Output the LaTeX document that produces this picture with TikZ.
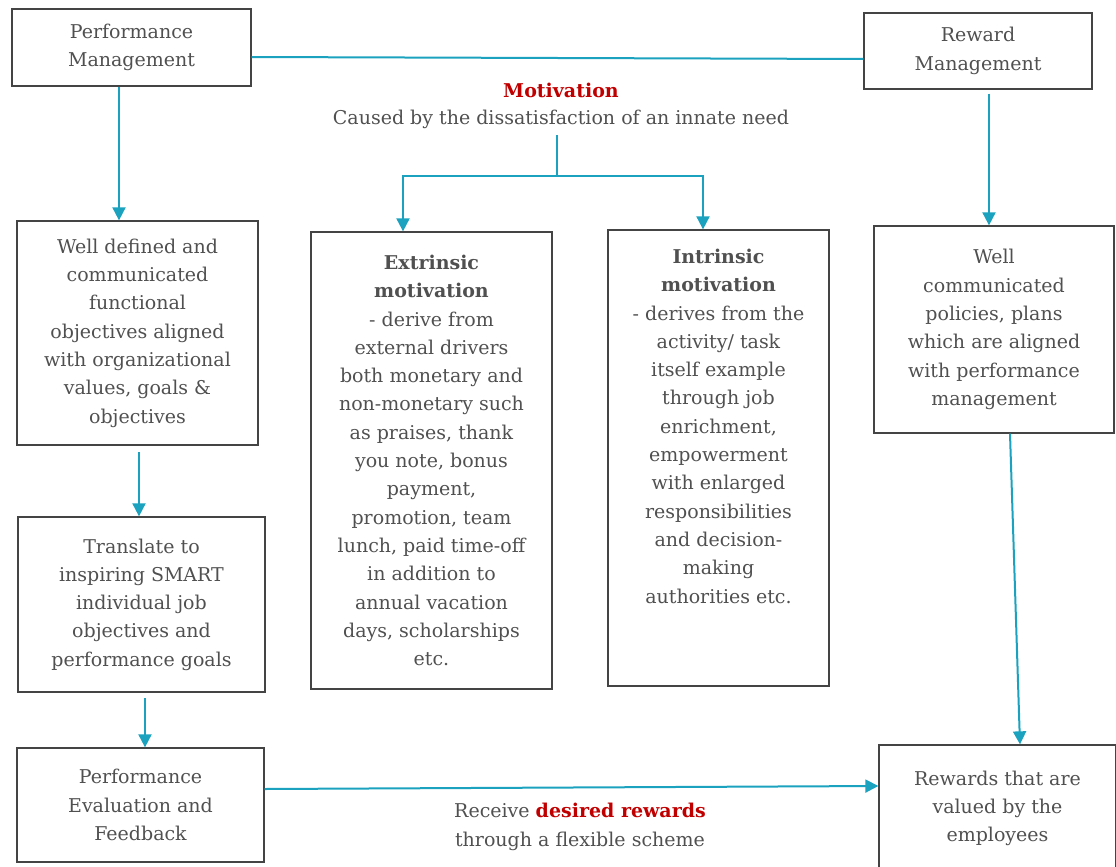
\documentclass[tikz,border=0pt]{standalone}
\usepackage{fontspec}
\setmainfont{DejaVu Serif}
\usetikzlibrary{arrows.meta}
\definecolor{flow}{HTML}{1AA2BF}
\definecolor{ink}{HTML}{505050}
\definecolor{accent}{HTML}{C00000}
\definecolor{frame}{HTML}{444444}
\begin{document}
\begin{tikzpicture}[x=1pt,y=-1pt,
  every node/.style={text=ink, font=\fontsize{19}{28.3}\selectfont},
  box/.style={draw=frame, line width=1.3pt, align=center, inner sep=0pt},
  link/.style={draw=flow, line width=2pt},
  arrow/.style={link, -{Triangle[width=13pt,length=13pt]}}]
\useasboundingbox (0,0) rectangle (1116,867);
\clip (0,0) rectangle (1116,867);

% left column
\node[box, minimum width=239, minimum height=77] (pm) at (131.5,47.5) {Performance\\Management};
\node[box, minimum width=241, minimum height=224] (wd) at (137.5,333)
  {Well defined and\\communicated\\functional\\objectives aligned\\with organizational\\values, goals \&\\objectives};
\node[box, minimum width=247, minimum height=175] (tr) at (141.5,604.5)
  {Translate to\\inspiring SMART\\individual job\\objectives and\\performance goals};
\node[box, minimum width=247, minimum height=114] (pe) at (140.5,805)
  {Performance\\Evaluation and\\Feedback};

% right column
\node[box, minimum width=228, minimum height=76] (rm) at (978,51) {Reward\\Management};
\node[box, minimum width=240, minimum height=207] (wc) at (994,329.5)
  {Well\\communicated\\policies, plans\\which are aligned\\with performance\\management};
\node[box, minimum width=237, minimum height=127] (rv) at (997.5,808.5)
  {Rewards that are\\valued by the\\employees};

% motivation heading
\node (mt) at (561,90) {\textcolor{accent}{\textbf{Motivation}}};
\node (cause) at (561,119) {Caused by the dissatisfaction of an innate need};

% motivation types
\node[box, minimum width=241, minimum height=457] (ex) at (431.5,460.5)
  {\textbf{Extrinsic}\\\textbf{motivation}\\- derive from\\external drivers\\both monetary and\\non-monetary such\\as praises, thank\\you note, bonus\\payment,\\promotion, team\\lunch, paid time-off\\in addition to\\annual vacation\\days, scholarships\\etc.};
\node[box, minimum width=221, minimum height=456] (in) at (718.5,458)
  {\parbox[c][456pt][t]{215pt}{\centering\vspace{19pt}%
   \textbf{Intrinsic}\\\textbf{motivation}\\- derives from the\\activity/ task\\itself example\\through job\\enrichment,\\empowerment\\with enlarged\\responsibilities\\and decision-\\making\\authorities etc.}};

% connectors
\draw[link] (pm.east |- 0,57) -- (rm.west |- 0,59);
\draw[arrow] (pm.south -| 119,0) -- (wd.north -| 119,0);
\draw[arrow] (139,452) coordinate (a1) -- (tr.north -| a1);
\draw[arrow] (145,698) coordinate (a2) -- (pe.north -| a2);
\draw[arrow] (pe.east |- 0,789) -- (rv.west |- 0,786);
\draw[arrow] (rm.south -| 989,0) ++(0,4) -- (wc.north -| 989,0);
\draw[arrow] (wc.south -| 1010,0) -- (rv.north -| 1020,0);
\coordinate (split) at (557,176);
\draw[link] (cause.south -| split) ++(0,3) -- (split);
\draw[arrow] (split) -| (ex.north -| 403,0);
\draw[arrow] (split) -| (in.north -| 703,0);

% label under the bottom connector
\node[align=center] (rcv) at (580,827) {Receive \textcolor{accent}{\textbf{desired rewards}}\\through a flexible scheme};
\end{tikzpicture}
\end{document}
